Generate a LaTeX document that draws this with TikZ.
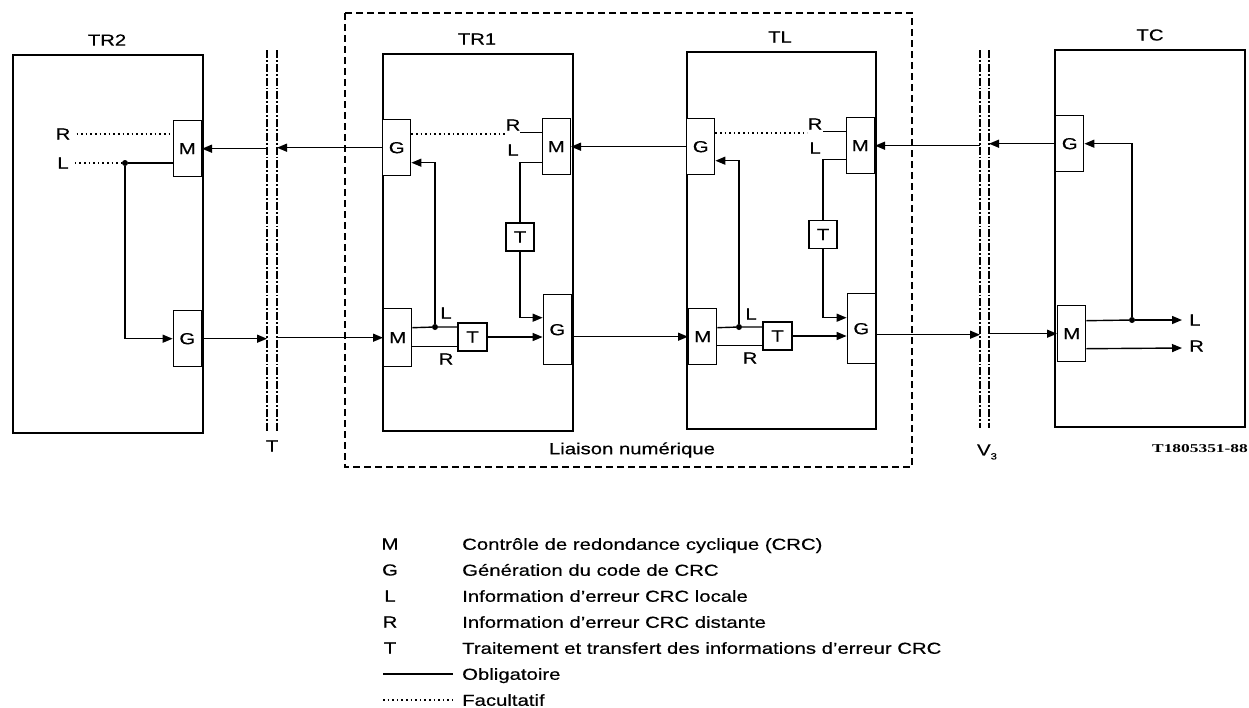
\documentclass[tikz,border=0pt]{standalone}
\usepackage{fontspec}
\setmainfont{Liberation Sans}[FakeStretch=1.27,FakeBold=0.4]
\newfontfamily\codefont{Liberation Serif}[FakeStretch=1.45]
\usetikzlibrary{arrows.meta}
\begin{document}
\begin{tikzpicture}[x=1pt,y=-1pt,
  every node/.style={font=\fontsize{16}{18}\selectfont, inner sep=0pt},
  blk/.style={draw, line width=1.4pt, minimum width=28pt, minimum height=56pt, fill=white},
  tbox/.style={draw, line width=1.4pt, minimum width=28pt, minimum height=28pt, fill=white},
  frame/.style={draw, line width=1.6pt, anchor=north west},
  sig/.style={line width=1.4pt},
  arr/.style={sig, -{Triangle[length=10pt,width=8pt]}},
  opt/.style={line width=1.6pt, dash pattern=on 1.6pt off 3pt},
  sepline/.style={line width=1.8pt, dash pattern=on 8pt off 2pt on 1.8pt off 2pt},
  dashbox/.style={line width=1.7pt, dash pattern=on 7pt off 4pt},
  junct/.style={circle, fill, minimum size=6pt, inner sep=0pt},
  legtext/.style={anchor=base west},
]
\fill[white] (0,0) rectangle (1249,707);
\useasboundingbox (0,0) rectangle (1249,707);

% ---------- frames ----------
\node[frame, minimum width=190pt, minimum height=378pt] (TR2) at (12,54) {};
\node[frame, minimum width=190pt, minimum height=377pt] (TR1) at (382,53) {};
\node[frame, minimum width=189pt, minimum height=377pt] (TL) at (686,51) {};
\node[frame, minimum width=190pt, minimum height=377pt] (TC) at (1054,49) {};
\node (TR2lbl) at (107,40) {TR2};
\node (TR1lbl) at (477,39) {TR1};
\node (TLlbl) at (780,37) {TL};
\node (TClbl) at (1150,35) {TC};

% ---------- digital link dashed box ----------
\draw[dashbox] (345,13) rectangle (912,467);
\node (liaison) at (632,450) {Liaison numérique};

% ---------- separators ----------
\coordinate (TsepL) at (267,0);
\coordinate (TsepR) at (277,0);
\coordinate (VsepL) at (980,0);
\coordinate (VsepR) at (989,0);
\draw[sepline] (267,50) -- (267,432);
\draw[sepline] (277,50) -- (277,432);
\draw[sepline] (980,50) -- (980,428);
\draw[sepline] (989,50) -- (989,428);
\node (Tlbl) at (272,446) {T};
\node (Vlbl) at (987,452) {V\raisebox{-4pt}{\fontsize{9}{9}\selectfont 3}};
\node[font=\codefont\bfseries\fontsize{12}{13}\selectfont] (code) at (1200,449) {T1805351-88};

% ---------- TR2 ----------
\node[blk, anchor=north east] (M2) at (202,120) {M};
\node[blk, anchor=north east] (G2) at (202,310) {G};
\node (R2) at (63,134) {R};
\node (L2) at (63,163) {L};
\node[junct] (d2) at (125,163) {};
\draw[opt] ([xshift=6pt]R2.east) -- (R2.east -| M2.west);
\draw[opt] ([xshift=6pt]L2.east) -- (d2);
\draw[sig] (d2) -- (d2 -| M2.west);
\draw[arr] (d2) |- (G2.west);

% ---------- TR1 ----------
\node[blk, anchor=north west] (Ga) at (382,119) {G};
\node[blk, anchor=north east] (Ma) at (571,118) {M};
\node[tbox] (Ta) at (520,237) {T};
\node[blk, anchor=north west, minimum height=58pt] (Mb) at (383,308) {M};
\node[tbox, minimum width=29pt] (Tb) at (472.5,337) {T};
\node[blk, anchor=north east, minimum height=70pt] (Gb) at (572,294) {G};
\node (Ra) at (513,125) {R};
\node (La) at (513,150) {L};
\node (Lb) at (446,313) {L};
\node (Rb) at (446,359) {R};
\node[junct] (da) at (435,327) {};
\draw[opt] ([yshift=14pt]Ga.east) -- ++(94,0);
\draw[sig] ([yshift=14pt]Ma.west) -- ++(-22,0);
\draw[sig] ([yshift=-16pt]Ma.west) -| (Ta.north);
\draw[arr] (Ta.south) |- ([yshift=12pt]Gb.west);
\draw[sig] ([yshift=10pt]Mb.east) -- (da) -- (da -| Tb.west);
\draw[arr] (da) |- ([yshift=-15pt]Ga.east);
\draw[sig] ([yshift=-9pt]Mb.east) -- ([yshift=-9pt]Mb.east -| Tb.west);
\draw[arr] (Tb.east) -- (Tb.east -| Gb.west);

% ---------- TL ----------
\node[blk, anchor=north west] (Gc) at (686,118) {G};
\node[blk, anchor=north east] (Mc) at (875,117) {M};
\node[tbox] (Tc) at (823,234.5) {T};
\node[blk, anchor=north west] (Md) at (688,308) {M};
\node[tbox, minimum width=29pt] (Td) at (777.5,336) {T};
\node[blk, anchor=north east, minimum height=70pt] (Gd) at (876,293) {G};
\node (Rc) at (815,124) {R};
\node (Lc) at (815,148) {L};
\node (Ld) at (751,314) {L};
\node (Rd) at (750,358) {R};
\node[junct] (dd) at (739,327) {};
\draw[opt] ([yshift=14pt]Gc.east) -- ++(92,0);
\draw[sig] ([yshift=14pt]Mc.west) -- ++(-23,0);
\draw[sig] ([yshift=-14pt]Mc.west) -| (Tc.north);
\draw[arr] (Tc.south) |- ([yshift=11pt]Gd.west);
\draw[sig] ([yshift=9pt]Md.east) -- (dd) -- (dd -| Td.west);
\draw[arr] (dd) |- ([yshift=-14pt]Gc.east);
\draw[sig] ([yshift=-9pt]Md.east) -- ([yshift=-9pt]Md.east -| Td.west);
\draw[arr] (Td.east) -- (Td.east -| Gd.west);

% ---------- TC ----------
\node[blk, anchor=north west] (Ge) at (1055,115) {G};
\node[blk, anchor=north west] (Me) at (1057,305) {M};
\node[junct] (de) at (1132,320) {};
\coordinate (outL) at (1182,320);
\coordinate (outR) at (1182,348);
\node[anchor=west] (Le) at (1189,320) {L};
\node[anchor=west] (Re) at (1189,346) {R};
\draw[sig] ([yshift=13pt]Me.east) -- (de);
\draw[arr] (de) -- (outL);
\draw[arr] ([yshift=-15pt]Me.east) -- (outR);
\draw[arr] (de) |- (Ge.east);

% ---------- upper (right-to-left) path ----------
\draw[arr] (Ge.west) -- (Ge.west -| VsepR);
\draw[arr] (Mc.east -| VsepL) -- (Mc.east);
\draw[arr] (Gc.west) -- (Gc.west -| Ma.east);
\draw[arr] (Ga.west) -- (Ga.west -| TsepR);
\draw[arr] (M2.east -| TsepL) -- (M2.east);

% ---------- lower (left-to-right) path ----------
\draw[arr] (G2.east) -- (G2.east -| TsepL);
\draw[arr] (Mb.west -| TsepR) -- (Mb.west);
\draw[arr] (Gb.east |- Md.west) -- (Md.west);
\draw[arr] ([yshift=-6pt]Gd.east) -- ([yshift=-6pt]Gd.east -| VsepL);
\draw[arr] (Me.west -| VsepR) -- (Me.west);

% ---------- legend ----------
\node (kM) at (390,544) {M};
\node (kG) at (390,570) {G};
\node (kL) at (390,596) {L};
\node (kR) at (390,622) {R};
\node (kT) at (390,648) {T};
\node[legtext] (tM) at (462,549.8) {Contrôle de redondance cyclique (CRC)};
\node[legtext] (tG) at (462,575.8) {Génération du code de CRC};
\node[legtext] (tL) at (462,601.8) {Information d’erreur CRC locale};
\node[legtext] (tR) at (462,627.8) {Information d’erreur CRC distante};
\node[legtext] (tT) at (462,653.8) {Traitement et transfert des informations d’erreur CRC};
\coordinate (ob1) at (383,674);
\coordinate (ob2) at (453,674);
\coordinate (fa1) at (383,700);
\coordinate (fa2) at (453,700);
\draw[sig] (ob1) -- (ob2);
\draw[opt] (fa1) -- (fa2);
\node[legtext] (tO) at (462,679.8) {Obligatoire};
\node[legtext] (tF) at (462,705.8) {Facultatif};
\end{tikzpicture}
\end{document}
